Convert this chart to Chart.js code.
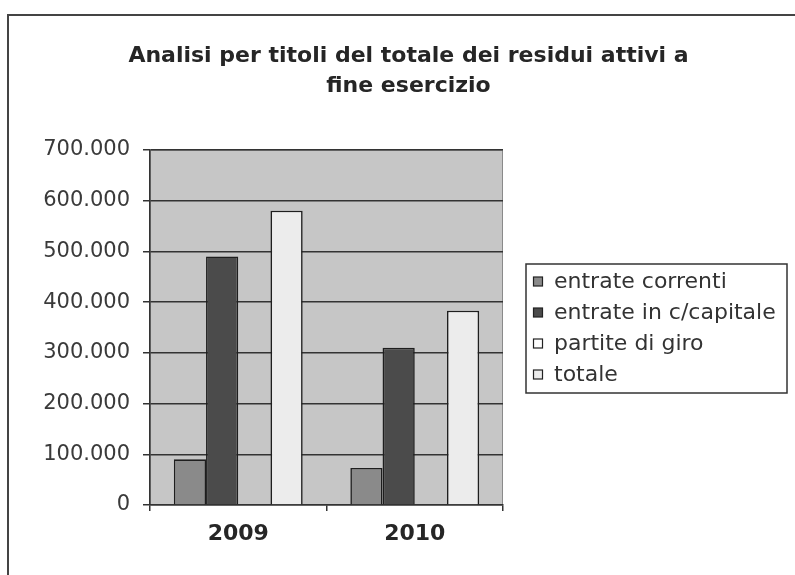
<!DOCTYPE html>
<html>
<head>
<meta charset="utf-8">
<script src="https://cdn.jsdelivr.net/npm/chart.js@4/dist/chart.umd.min.js"></script>
<style>
  html, body { margin: 0; padding: 0; background: #fff; overflow: hidden; }
  #wrap { position: relative; width: 795px; height: 575px; }
  #frame { position: absolute; left: 7px; top: 14px; right: -10px; bottom: -10px;
           border-left: 2px solid #444; border-top: 2px solid #444; pointer-events: none; }
  canvas { position: absolute; left: 0; top: 0; }
</style>
</head>
<body>
<div id="wrap">
  <canvas id="chart" width="795" height="575"></canvas>
  <div id="frame"></div>
</div>
<script>
// Data
const years = ['2009', '2010'];
const seriesNames = ['entrate correnti', 'entrate in c/capitale', 'partite di giro', 'totale'];
const entrateCorrenti = [90000, 73000];
const entrateCapitale = [490000, 310000];
const partiteDiGiro = [0, 0];
const totale = [580000, 383000];
const yTicks = [0, 100000, 200000, 300000, 400000, 500000, 600000, 700000];

const barColors = ['#8a8a8a', '#4b4b4b', '#ffffff', '#ececec'];
const seriesValues = [entrateCorrenti, entrateCapitale, partiteDiGiro, totale];

// Italian thousands separator: 700000 -> 700.000
function fmt(v) {
  return String(v).replace(/\B(?=(\d{3})+(?!\d))/g, '.');
}

// Grey plot background, drawn before the bars
const plotBg = {
  id: 'plotBg',
  beforeDraw(chart) {
    const { ctx, chartArea: a } = chart;
    ctx.save();
    ctx.fillStyle = '#c6c6c6';
    ctx.fillRect(a.left, a.top, a.right - a.left, a.bottom - a.top);
    ctx.strokeStyle = '#8a8a8a';
    ctx.lineWidth = 1;
    ctx.strokeRect(a.left + 0.5, a.top + 0.5, a.right - a.left - 1, a.bottom - a.top - 1);
    ctx.restore();
  }
};

// Boxed legend on the right, like the spreadsheet one
const boxLegend = {
  id: 'boxLegend',
  afterDraw(chart) {
    const ctx = chart.ctx;
    const x = 526, y = 264, w = 261, h = 129;
    ctx.save();
    ctx.strokeStyle = '#333';
    ctx.lineWidth = 1.5;
    ctx.strokeRect(x, y, w, h);
    ctx.font = '22px "DejaVu Sans"';
    ctx.textBaseline = 'middle';
    chart.data.datasets.forEach((ds, i) => {
      const cy = y + 18 + i * 31;
      ctx.fillStyle = ds.backgroundColor;
      ctx.fillRect(533.5, cy - 5, 9, 9);
      ctx.strokeStyle = '#222';
      ctx.lineWidth = 1.2;
      ctx.strokeRect(533.5, cy - 5, 9, 9);
      ctx.fillStyle = '#333';
      ctx.fillText(ds.label, 554, cy);
    });
    ctx.restore();
  }
};

const datasets = seriesNames.map((name, i) => ({
  label: name,
  data: seriesValues[i],
  backgroundColor: barColors[i],
  borderColor: '#1e1e1e',
  borderWidth: 1.6,
  borderSkipped: 'bottom',
  barPercentage: 1,
  categoryPercentage: 0.73
}));

new Chart(document.getElementById('chart'), {
  type: 'bar',
  data: { labels: years, datasets: datasets },
  options: {
    responsive: false,
    animation: false,
    layout: { padding: { left: 22, right: 0, top: 0, bottom: 0 } },
    plugins: {
      legend: { display: false },
      tooltip: { enabled: false },
      title: {
        display: true,
        text: ['Analisi per titoli del totale dei residui attivi a', 'fine esercizio'],
        color: '#262626',
        font: { family: '"DejaVu Sans"', size: 22, weight: 'bold', lineHeight: 1.36 },
        padding: { top: 41, bottom: 49 }
      }
    },
    scales: {
      x: {
        grid: { drawOnChartArea: false, drawTicks: true, tickLength: 6, color: '#333', lineWidth: 1.5 },
        border: { color: '#333', width: 1.5 },
        ticks: { color: '#262626', padding: 10, font: { family: '"DejaVu Sans"', size: 22, weight: 'bold' } },
        afterFit(scale) { scale.height = 70; }
      },
      y: {
        min: 0,
        max: 700000,
        afterBuildTicks(scale) { scale.ticks = yTicks.map(v => ({ value: v })); },
        grid: { color: '#333', lineWidth: 1.5, tickLength: 7 },
        border: { color: '#333', width: 1.5 },
        ticks: { color: '#3a3a3a', padding: 13, font: { family: '"DejaVu Sans"', size: 21 }, callback: v => fmt(v) },
        afterFit(scale) { scale.width = 128; }
      },
      legendSpace: {
        position: 'right',
        display: true,
        grid: { drawOnChartArea: false, drawTicks: false },
        border: { display: false },
        ticks: { display: false },
        afterFit(scale) { scale.width = 292; }
      }
    }
  },
  plugins: [plotBg, boxLegend]
});
</script>
</body>
</html>
